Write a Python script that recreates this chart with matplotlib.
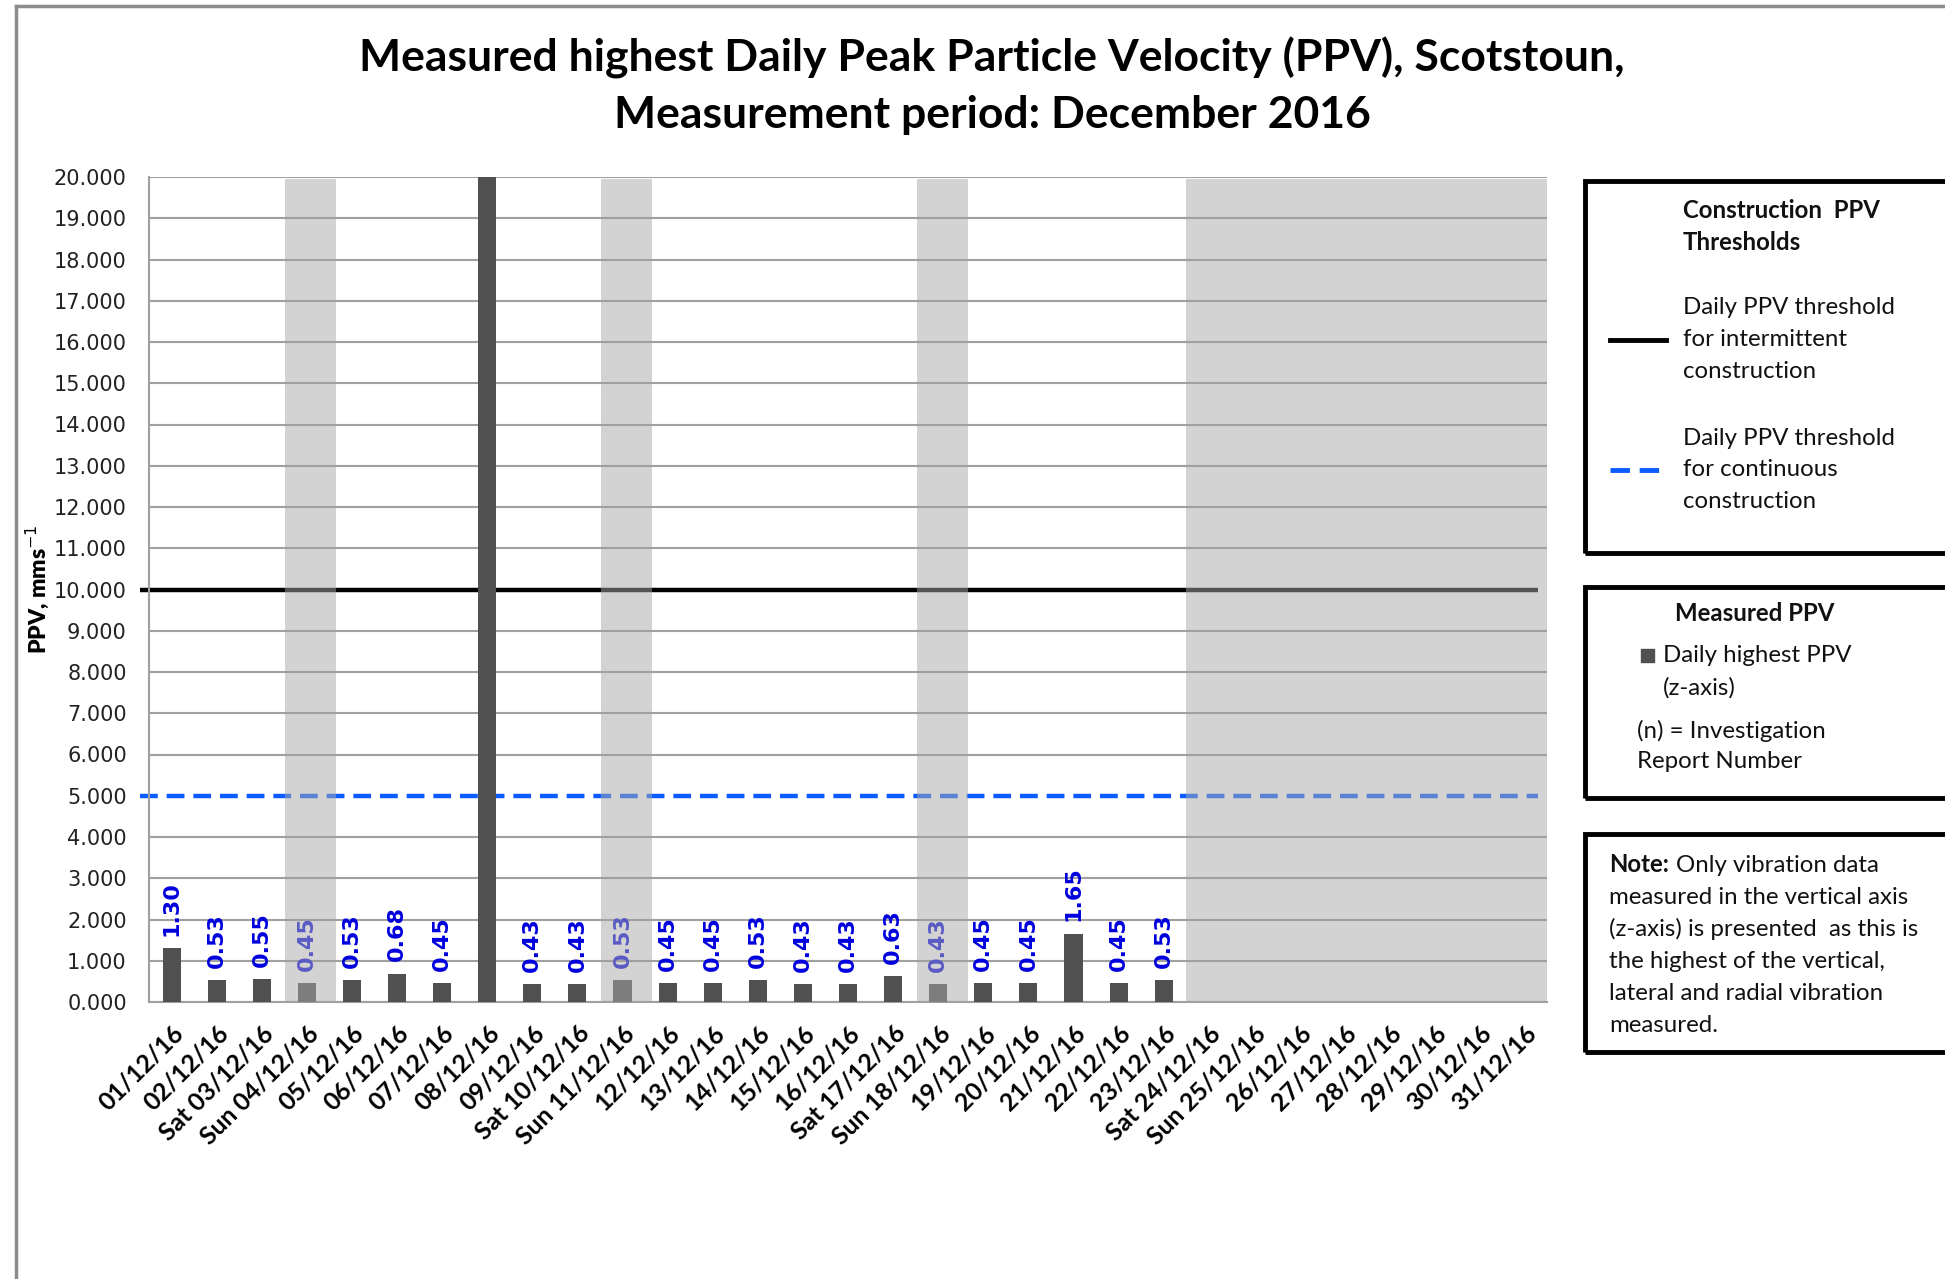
import matplotlib
matplotlib.use("Agg")
import matplotlib.pyplot as plt
from matplotlib.patches import Rectangle
from matplotlib.lines import Line2D

# Data (mm/s); 08/12 goes off the top of the scale
day_labels = ["01/12/16", "02/12/16", "Sat 03/12/16", "Sun 04/12/16", "05/12/16",
              "06/12/16", "07/12/16", "08/12/16", "09/12/16", "Sat 10/12/16",
              "Sun 11/12/16", "12/12/16", "13/12/16", "14/12/16", "15/12/16",
              "16/12/16", "Sat 17/12/16", "Sun 18/12/16", "19/12/16", "20/12/16",
              "21/12/16", "22/12/16", "23/12/16", "Sat 24/12/16", "Sun 25/12/16",
              "26/12/16", "27/12/16", "28/12/16", "29/12/16", "30/12/16", "31/12/16"]
ppv = [1.30, 0.53, 0.55, 0.45, 0.53, 0.68, 0.45, 25.0, 0.43, 0.43, 0.53,
       0.45, 0.45, 0.53, 0.43, 0.43, 0.63, 0.43, 0.45, 0.45, 1.65, 0.45, 0.53]
shaded_days = [3, 10, 17]      # Sundays (index)
no_data_from = 23              # shading from Sat 24/12 to end of month
intermittent_limit = 10.0
continuous_limit = 5.0
ymax = 20

fig = plt.figure(figsize=(19.45, 12.79), dpi=100)
ax = fig.add_axes([149/1945, 1-1002/1279, 1398/1945, 825/1279])

n_days = len(day_labels)
x = list(range(n_days))

# threshold lines (under the shading)
ax.hlines(intermittent_limit, -0.7, n_days - 0.7, colors="black", lw=3.2, zorder=1, clip_on=False)
ax.hlines(continuous_limit, -0.7, n_days - 0.7, colors="#0a5cff", lw=3.2, zorder=1,
          linestyles=(0, (4, 2)), clip_on=False)

# weekend / no data shading
for d in shaded_days:
    ax.axvspan(d - 0.48, d + 0.65, ymin=0, ymax=0.997, color="#a8a8a8", alpha=0.506, lw=0, zorder=2)
ax.axvspan(no_data_from - 0.5, n_days - 0.5, ymin=0, ymax=0.997, color="#a8a8a8", alpha=0.506, lw=0, zorder=2)

# gridlines (skipped where a threshold line sits)
for g in range(0, ymax + 1):
    if g in (intermittent_limit, continuous_limit):
        continue
    ax.axhline(g, color="#a0a0a0", lw=1.5, zorder=3)

# bars
bar_colors = ["#7d7d7d" if i in shaded_days else "#505050" for i in range(len(ppv))]
ax.bar(range(len(ppv)), ppv, width=0.4, color=bar_colors, zorder=4)

for i, v in enumerate(ppv):
    if v > ymax:
        continue
    c = "#5a5ac4" if i in shaded_days else "#0000dd"
    ax.annotate(f"{v:.2f}", (i, v), xytext=(0, 9), textcoords="offset points",
                rotation=90, ha="center", va="bottom", fontsize=16, fontweight="bold",
                color=c, zorder=5)

ax.set_xlim(-0.5, n_days - 0.5)
ax.set_ylim(0, ymax)
ax.set_yticks(range(0, ymax + 1))
ax.set_yticklabels([f"{t:.3f}" for t in range(0, ymax + 1)], fontsize=15, color="#222222")
ax.set_xticks(x)
ax.set_xticklabels(day_labels, rotation=45, ha="right", rotation_mode="anchor",
                   fontsize=17.8, fontweight="bold", family="Lato")
ax.tick_params(axis="both", length=0)
ax.tick_params(axis="x", pad=14)
ax.tick_params(axis="y", pad=16)
for s in ["top", "right"]:
    ax.spines[s].set_visible(False)
for s in ["left", "bottom"]:
    ax.spines[s].set_color("#a0a0a0")
    ax.spines[s].set_linewidth(1.5)
ax.set_ylabel("PPV, mms$^{-1}$", fontsize=16.5, fontweight="heavy", family="Lato", labelpad=2)

# title
fig.text(992/1945, 1-58/1279, "Measured highest Daily Peak Particle Velocity (PPV), Scotstoun,",
         ha="center", va="center", fontsize=32, fontweight="bold", family="Lato")
fig.text(992/1945, 1-115/1279, "Measurement period: December 2016",
         ha="center", va="center", fontsize=32, fontweight="bold", family="Lato")

# outer frame (top and left edges visible)
fig.add_artist(Line2D([16/1945, 16/1945], [0, 1-6/1279], color="#8c8c8c", lw=2.5))
fig.add_artist(Line2D([16/1945, 1], [1-6/1279, 1-6/1279], color="#8c8c8c", lw=2.5))

def fx(px):
    return px / 1945

def fy(py):
    return 1 - py / 1279

def box(top, bottom):
    fig.add_artist(Rectangle((fx(1585), fy(bottom)), fx(2000) - fx(1585), fy(top) - fy(bottom),
                             transform=fig.transFigure, fill=False, ec="black", lw=3.5))

tkw = dict(fontsize=17.3, family="Lato", va="center", ha="left", color="#111111")

# legend box 1: thresholds
box(181, 553)
fig.text(fx(1683), fy(211), "Construction  PPV", fontweight="bold", **tkw)
fig.text(fx(1683), fy(242), "Thresholds", fontweight="bold", **tkw)
for j, t in enumerate(["Daily PPV threshold", "for intermittent", "construction"]):
    fig.text(fx(1683), fy(308 + 32 * j), t, **tkw)
for j, t in enumerate(["Daily PPV threshold", "for continuous", "construction"]):
    fig.text(fx(1683), fy(438 + 32 * j), t, **tkw)
fig.add_artist(Line2D([fx(1610), fx(1666)], [fy(340), fy(340)], color="black", lw=3.5))
fig.add_artist(Line2D([fx(1610), fx(1666)], [fy(470), fy(470)], color="#0a5cff", lw=3.5,
                      linestyle=(0, (4, 2))))

# legend box 2: measured
box(587, 798)
fig.text(fx(1755), fy(614), "Measured PPV", fontweight="bold",
         **{**tkw, "ha": "center"})
fig.add_artist(Rectangle((fx(1641), fy(662)), fx(13), 13/1279, transform=fig.transFigure,
                         color="#505050"))
fig.text(fx(1663), fy(656), "Daily highest PPV", **tkw)
fig.text(fx(1663), fy(688), "(z-axis)", **tkw)
fig.text(fx(1637), fy(731), "(n) = Investigation", **tkw)
fig.text(fx(1637), fy(762), "Report Number", **tkw)

# note box
box(834, 1052)
note_lines = ["Only vibration data", "measured in the vertical axis",
              "(z-axis) is presented  as this is", "the highest of the vertical,",
              "lateral and radial vibration", "measured."]
fig.text(fx(1609), fy(865), "Note:", fontweight="bold", **tkw)
fig.text(fx(1676), fy(865), note_lines[0], **tkw)
for j, t in enumerate(note_lines[1:]):
    fig.text(fx(1609), fy(897 + 32.2 * j), t, **tkw)

fig.savefig("out.png", dpi=100)
